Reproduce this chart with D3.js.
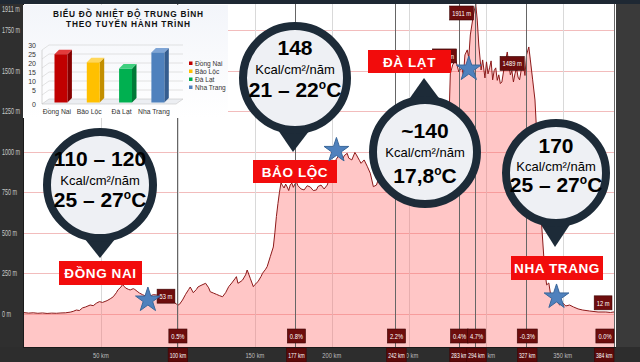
<!DOCTYPE html>
<html><head><meta charset="utf-8">
<script src="https://cdn.jsdelivr.net/npm/d3@7"></script>
<style>html,body{margin:0;padding:0;background:#2f2f2f;overflow:hidden}svg{display:block}</style>
</head><body>
<script>
// ---------------- DATA ----------------
const profileKm = [0,3,6,9,12,15,18,21,24,27,30,32,34,36,38,40,43,45,47,49,51,54,56,58,60,61,63,64,65,66,68,69,71,72,74,75,77,80,82,84,86,88,90,92,95,97,98,99,100,101,103,105,107,108,110,112,113,115,118,120,121,123,125,127,129,131,133,135,137,138,139,141,142,144,145,146,147,149,150,152,154,155,157,158,160,162,163,164,165,166,167,168,169,170,171,172,173,174,175,176,177,178,180,182,184,186,188,190,191,193,195,197,198,199,200,202,204,205,207,208,210,211,213,215,216,218,219,221,223,225,227,229,232,236,240,245,250,255,260,265,270,274,276,277,278.5,280.5,282.5,283.5,284.5,285.5,286.5,288,289,290,292,293.5,294.5,295.5,297,298,299.5,300.5,301.5,302.5,303.5,304.5,305.5,306.5,307.5,308.5,309.5,310.5,312,314,315,316,317,318,319,320,321,322,323,324.5,325.5,326.5,328,329,330.5,332,333,334.5,335.7,337,338.3,339.6,341,342,344,346,348,350,352,354.5,357,360,363,367.5,373,378,381,384];
const profileElev = [7,4,6,3,5,2,4,3,5,6,10,15,23,20,36,42,54,50,65,75,70,81,92,105,130,147,165,180,170,159,150,147,155,150,135,128,118,105,110,118,116,112,118,110,105,85,67,60,53,58,85,120,150,165,130,150,165,175,188,160,136,128,120,112,105,130,167,190,215,229,188,200,208,240,270,245,219,167,180,198,230,250,275,291,352,412,500,600,680,750,808,790,776,800,782,760,795,806,780,800,813,790,770,764,790,782,760,764,785,794,770,794,820,860,887,940,969,990,949,975,990,960,949,995,980,945,928,949,910,867,784,794,880,950,1000,1040,1010,1060,1090,1060,1100,1130,1150,1480,1535,1566,1492,1505,1517,1470,1597,1628,1580,1720,1844,1911,1812,1658,1504,1566,1455,1554,1480,1517,1560,1443,1500,1517,1440,1474,1420,1430,1520,1615,1540,1474,1500,1430,1480,1517,1460,1443,1500,1535,1470,1597,1646,1566,1443,1319,1134,887,640,455,270,178,190,128,116,85,54,67,48,54,42,30,23,17,11,11,8,12];

const yTicks = [0,250,500,750,1000,1250,1500,1750,1911];
const xTicks = [50,100,150,200,250,300,350];
const markerKm = [100,177,242,283,294,327,384];
const markerElev = [53,null,null,1535,1911,1489,12];
const gradeLabels = ["0.5%","0.8%","2.2%","0.4%","4.7%","-0.3%","0.0%"];

const places = ["ĐỒNG NAI","BẢO LỘC","ĐÀ LẠT","NHA TRANG"];
const radiation = ["110 – 120","148","~140","170"];
const temps = ["25 – 27","21 – 22","17,8","25 – 27"];
const starKm = [80.5,203,289,346];
const starElev = [97,1020,1522,116];

// inset bar chart
const insetCats = ["Đồng Nai","Bảo Lộc","Đà Lạt","Nha Trang"];
const insetVals = [26,21.5,18,27];
const insetTicks = [0,5,10,15,20,25,30];
const insetTitle = ["BIỂU ĐỒ NHIỆT ĐỘ TRUNG BÌNH","THEO TUYẾN HÀNH TRÌNH"];

// ---------------- CHART ----------------
const svg = d3.select("body").append("svg").attr("width",640).attr("height",362);
const FONT = "'Liberation Sans', Arial, sans-serif";
const x = d3.scaleLinear().domain([0,384]).range([24,615]);
const y = d3.scaleLinear().domain([-205,1911]).range([347,4]);

// backgrounds
svg.append("rect").attr("width",640).attr("height",362).attr("fill","#2f2f2f");
svg.append("rect").attr("x",616).attr("width",24).attr("height",362).attr("fill","#3a3a3a");
svg.append("rect").attr("x",23).attr("y",0).attr("width",593).attr("height",347).attr("fill","#ffffff");

// grid
svg.append("g").selectAll("line").data(yTicks.filter(v=>v<1900)).join("line")
  .attr("x1",23).attr("x2",615).attr("y1",d=>Math.round(y(d))+0.5).attr("y2",d=>Math.round(y(d))+0.5)
  .attr("stroke","#f2bcbc").attr("stroke-width",1);
svg.append("g").selectAll("line").data(xTicks).join("line")
  .attr("x1",d=>Math.round(x(d))+0.5).attr("x2",d=>Math.round(x(d))+0.5).attr("y1",4).attr("y2",347)
  .attr("stroke","#d9d9d9").attr("stroke-width",1);

// profile
const pts = profileKm.map((k,i)=>[k,profileElev[i]]);
svg.append("path").datum(pts)
  .attr("d", d3.area().x(d=>x(d[0])).y0(347).y1(d=>y(d[1])))
  .attr("fill","rgba(255,105,105,0.38)");
svg.append("path").datum(pts)
  .attr("d", d3.line().x(d=>x(d[0])).y(d=>y(d[1])))
  .attr("fill","none").attr("stroke","#8c1a1a").attr("stroke-width",1);

// marker lines
svg.append("g").selectAll("line").data(markerKm).join("line")
  .attr("x1",d=>Math.round(x(d))-0.5).attr("x2",d=>Math.round(x(d))-0.5).attr("y1",4).attr("y2",347)
  .attr("stroke","#666").attr("stroke-width",1);

// narrow text helper
function ntext(g, tx, ty, str, size, sx, fill, anchor){
  return g.append("text").attr("transform",`translate(${tx},${ty}) scale(${sx},1)`)
    .attr("text-anchor",anchor||"start").attr("font-family",FONT).attr("font-size",size)
    .attr("fill",fill).text(str);
}
function boxLabel(g, cx, top, str, align, bg, sx, pad){
  sx = sx || 0.72; pad = pad || 5;
  const grp = g.append("g");
  const rect = grp.append("rect");
  const t = ntext(grp, 0, 0, str, 8, sx, "#fff", "middle");
  const w = t.node().getComputedTextLength()*sx + pad;
  let left = align==="right" ? cx - w : cx - w/2;
  if (left + w > 614) left = 614 - w;
  rect.attr("x",left).attr("y",top).attr("width",w).attr("height",14).attr("fill",bg||"#6d0d0d")
    .attr("stroke","#3d0505").attr("stroke-width",0.6);
  t.attr("transform",`translate(${left+w/2},${top+10}) scale(${sx},1)`);
}

// elevation boxes
const gBoxes = svg.append("g");
markerKm.forEach((k,i)=>{
  if (markerElev[i]===null) return;
  const bottom = y(markerElev[i]) - 2;
  const top = Math.max(6, bottom-14);
  boxLabel(gBoxes, x(k)-3, top, markerElev[i]+" m", "right");
});
// grade boxes
markerKm.forEach((k,i)=> boxLabel(gBoxes, x(k), 329, gradeLabels[i], "center"));

// bottom band + x axis
svg.append("rect").attr("x",0).attr("y",347).attr("width",640).attr("height",15).attr("fill","#2d2d2d");
svg.append("line").attr("x1",23).attr("x2",616).attr("y1",347.5).attr("y2",347.5).attr("stroke","#1a1a1a");
const gx = svg.append("g");
xTicks.forEach(v=> ntext(gx, x(v), 358, v+" km", 8, 0.72, "#bdbdbd", "middle"));
markerKm.forEach(k=> boxLabel(gx, x(k), 348, k+" km", "center", "#5a0a0a", 0.63, 3));

// left strip + y labels
svg.append("rect").attr("x",0).attr("y",0).attr("width",23).attr("height",347).attr("fill","#2f2f2f");
svg.append("line").attr("x1",23.5).attr("x2",23.5).attr("y1",0).attr("y2",347).attr("stroke","#1a1a1a");
const gy = svg.append("g");
yTicks.forEach(v=> ntext(gy, 2, Math.max(y(v),9)+3, v+" m", 8.5, 0.64, "#c8c8c8", "start"));
// top band
svg.append("rect").attr("x",0).attr("y",0).attr("width",640).attr("height",4).attr("fill","#1e2833");

// ---------------- INSET ----------------
const gi = svg.append("g");
const grad = svg.append("defs").append("linearGradient").attr("id","ig").attr("x1",0).attr("y1",0).attr("x2",0).attr("y2",1);
grad.append("stop").attr("offset",0).attr("stop-color","#f3f5fa");
grad.append("stop").attr("offset",1).attr("stop-color","#ffffff");
gi.append("rect").attr("x",23).attr("y",5).attr("width",205).attr("height",113).attr("fill","url(#ig)");
gi.selectAll("text.tt").data(insetTitle).join("text").attr("class","tt")
  .attr("x",128).attr("y",(d,i)=>16.5+i*10.5).attr("text-anchor","middle")
  .attr("font-family",FONT).attr("font-weight","bold").attr("font-size",8.3).attr("fill","#111")
  .attr("textLength",(d,i)=>i===0?150:124).attr("lengthAdjust","spacing").text(d=>d);
const yS = d3.scaleLinear().domain([0,30]).range([99,45]);
const dxW = 7, dyW = 5;
// walls / floor
gi.append("path").attr("d",`M42,104 L176,104 L${176+dxW},${104-dyW} L${42+dxW},${104-dyW} Z`)
  .attr("fill","#eceef2").attr("stroke","#c8c8c8").attr("stroke-width",0.6);
insetTicks.filter(v=>v>0).forEach(v=>{
  gi.append("path").attr("d",`M42,${yS(v)+dyW} L${42+dxW},${yS(v)} L${176+dxW},${yS(v)}`)
    .attr("fill","none").attr("stroke","#d0d0d0").attr("stroke-width",0.6);
});
gi.append("line").attr("x1",42).attr("x2",42).attr("y1",104).attr("y2",yS(30)+dyW).attr("stroke","#bdbdbd").attr("stroke-width",0.6);
insetTicks.forEach(v=>{
  gi.append("text").attr("x",36).attr("y",(v===0?104:yS(v))+2.5).attr("text-anchor","end")
    .attr("font-family",FONT).attr("font-size",7).attr("fill","#333").text(v);
});
const xB = d3.scaleBand().domain(insetCats).range([44.8,174]).paddingInner(0.6).paddingOuter(0.3);
const barCols = [["#c00000","#e23b3b","#850000"],["#ffc000","#ffd75a","#c38f00"],["#00b050","#3fd07f","#007a37"],["#4f81bd","#7fa5d6","#355d8f"]];
const bd = 4.5;
insetCats.forEach((c,i)=>{
  const x0 = xB(c), w = xB.bandwidth(), top = yS(insetVals[i])+2, bot = 102.5;
  const col = barCols[i];
  gi.append("path").attr("d",`M${x0+w},${top} L${x0+w+bd},${top-bd} L${x0+w+bd},${bot-bd} L${x0+w},${bot} Z`).attr("fill",col[2]);
  gi.append("path").attr("d",`M${x0},${top} L${x0+bd},${top-bd} L${x0+w+bd},${top-bd} L${x0+w},${top} Z`).attr("fill",col[1]);
  gi.append("rect").attr("x",x0).attr("y",top).attr("width",w).attr("height",bot-top).attr("fill",col[0]);
  gi.append("text").attr("x",x0+w/2-4).attr("y",114).attr("text-anchor","middle")
    .attr("font-family",FONT).attr("font-size",6.8).attr("fill","#333").text(c);
  gi.append("rect").attr("x",189).attr("y",61.5+i*8).attr("width",3.5).attr("height",3.5).attr("fill",col[0]);
  gi.append("text").attr("x",195).attr("y",65.5+i*8).attr("font-family",FONT).attr("font-size",6.6)
    .attr("fill","#333").text(c);
});

// ---------------- CALLOUTS ----------------
const RING = "#1d2b38";
const callouts = [
  {cx:100,cy:185,r:57,tx:100,ty:258,b:[166,185,207]},
  {cx:295,cy:78,r:56,tx:293,ty:152,b:[55,74,97]},
  {cx:425,cy:152,r:56,tx:424,ty:78,b:[138,157,183]},
  {cx:556,cy:173,r:54,tx:555,ty:247,b:[153,171,192]}
];
const gc = svg.append("g");
callouts.forEach((c,i)=>{
  const ang = Math.atan2(c.ty-c.cy, c.tx-c.cx);
  const rr = c.r-4, da = 0.36;
  const p1 = [c.cx+rr*Math.cos(ang-da), c.cy+rr*Math.sin(ang-da)];
  const p2 = [c.cx+rr*Math.cos(ang+da), c.cy+rr*Math.sin(ang+da)];
  gc.append("path").attr("d",`M${p1} L${c.tx},${c.ty} L${p2} Z`).attr("fill",RING);
  gc.append("circle").attr("cx",c.cx).attr("cy",c.cy).attr("r",c.r-4).attr("fill","#eef0f4")
    .attr("stroke",RING).attr("stroke-width",8);
  gc.append("text").attr("x",c.cx).attr("y",c.b[0]).attr("text-anchor","middle").attr("font-family",FONT)
    .attr("font-weight","bold").attr("font-size",21).attr("fill","#000").text(radiation[i]);
  gc.append("text").attr("x",c.cx).attr("y",c.b[1]).attr("text-anchor","middle").attr("font-family",FONT)
    .attr("font-size",13).attr("fill","#000").text("Kcal/cm²/năm");
  const t = gc.append("text").attr("x",c.cx).attr("y",c.b[2]).attr("text-anchor","middle").attr("font-family",FONT)
    .attr("font-weight","bold").attr("font-size",21).attr("fill","#000");
  t.append("tspan").text(temps[i]);
  t.append("tspan").attr("font-size",12).attr("dy",-8).text("o");
  t.append("tspan").attr("dy",8).text("C");
});

// red place labels
const labelBoxes = [[59,261,83,24],[253,160,84,23],[368,50,83,23],[511,256,92,24]];
const gl = svg.append("g");
places.forEach((p,i)=>{
  const b = labelBoxes[i];
  gl.append("rect").attr("x",b[0]).attr("y",b[1]).attr("width",b[2]).attr("height",b[3]).attr("fill","#f20c0c");
  gl.append("text").attr("x",b[0]+b[2]/2).attr("y",b[1]+b[3]/2+5).attr("text-anchor","middle")
    .attr("font-family",FONT).attr("font-weight","bold").attr("font-size",13.5).attr("letter-spacing",0.6)
    .attr("fill","#fff").text(p);
});

// stars
const R = 13;
svg.append("g").selectAll("path").data(starKm).join("path")
  .attr("d", d3.symbol().type(d3.symbolStar).size(R*R/0.8908130915292852))
  .attr("transform",(d,i)=>`translate(${x(d)},${y(starElev[i])+2})`)
  .attr("fill","#4f81bd").attr("stroke","#3a679a").attr("stroke-width",1);
</script>
</body></html>
